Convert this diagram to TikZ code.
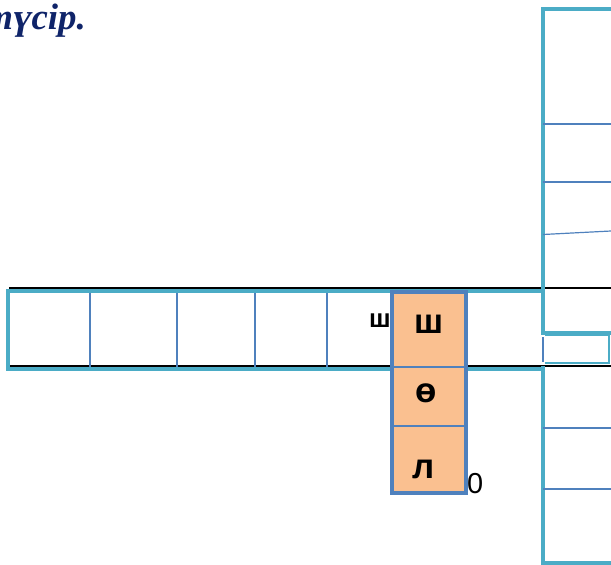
\documentclass[tikz,border=0pt]{standalone}
\usepackage{fontspec}
\setmainfont{Liberation Serif}
\newfontfamily\cellfont{Liberation Sans}
\usetikzlibrary{positioning}
\definecolor{tealline}{HTML}{4BACC6}
\definecolor{blueline}{HTML}{4F81BD}
\definecolor{cellfill}{HTML}{FAC090}
\definecolor{titleblue}{HTML}{0F2469}

\begin{document}
\begin{tikzpicture}[x=1bp, y=-1bp,
        frame/.style={draw=tealline, line width=4.5bp},
        divider/.style={draw=blueline, line width=1.2bp},
        keycell/.style={fill=cellfill, draw=blueline, line width=4bp},
        letter/.style={font=\cellfont\bfseries\fontsize{35}{35}\selectfont, inner sep=0pt, anchor=base},
        note/.style={font=\cellfont\fontsize{29}{29}\selectfont, inner sep=0pt}
    ]
        \useasboundingbox (0,0) rectangle (611,565);

        % title, cut by the page edge
        \node[anchor=base east, font=\bfseries\itshape\fontsize{37}{37}\selectfont, text=titleblue, inner sep=0pt] (title) at (86,30) {түсір.};

        % horizontal word
        \draw[black, line width=1.5bp] (611,288) -- (9.5,288) -- (9.5,366) -- (611,366);
        \draw[frame] (543,291) -- (8,291) -- (8,369) -- (543,369);
        \foreach \x in {90,177,255,327}
            \draw[divider] (\x,293) -- (\x,367);

        % vertical word, upper part
        \draw[frame] (611,9) -- (543,9) -- (543,333) -- (611,333);
        \draw[divider] (543,124) -- (611,124);
        \draw[divider] (543,182) -- (611,182);
        \draw[divider] (543,234.5) -- (611,231);
        \draw[draw=tealline, line width=2.5bp] (545,335) -- (609,335) -- (609,363) -- (545,363);
        \draw[divider] (543,337) -- (543,362);

        % vertical word, lower part
        \draw[frame] (543,366) -- (543,563) -- (611,563);
        \draw[divider] (543,428) -- (611,428);
        \draw[divider] (543,489) -- (611,489);

        % key column
        \filldraw[keycell] (392,292) rectangle (466,493);
        \draw[blueline, line width=2bp] (392,367) -- (466,367);
        \draw[blueline, line width=2bp] (392,426) -- (466,426);

        \node[letter] (sha) at (429,333) {ш};
        \node[letter] (oe) at (426,402) {ө};
        \node[letter] (el) at (424,478) {л};
        \node[letter, font=\cellfont\bfseries\fontsize{26}{26}\selectfont, anchor=base east] (shaleft) at (391,327) {ш};
        \node[note, anchor=base west] (zero) at (467,493) {0};
    \end{tikzpicture}
\end{document}
